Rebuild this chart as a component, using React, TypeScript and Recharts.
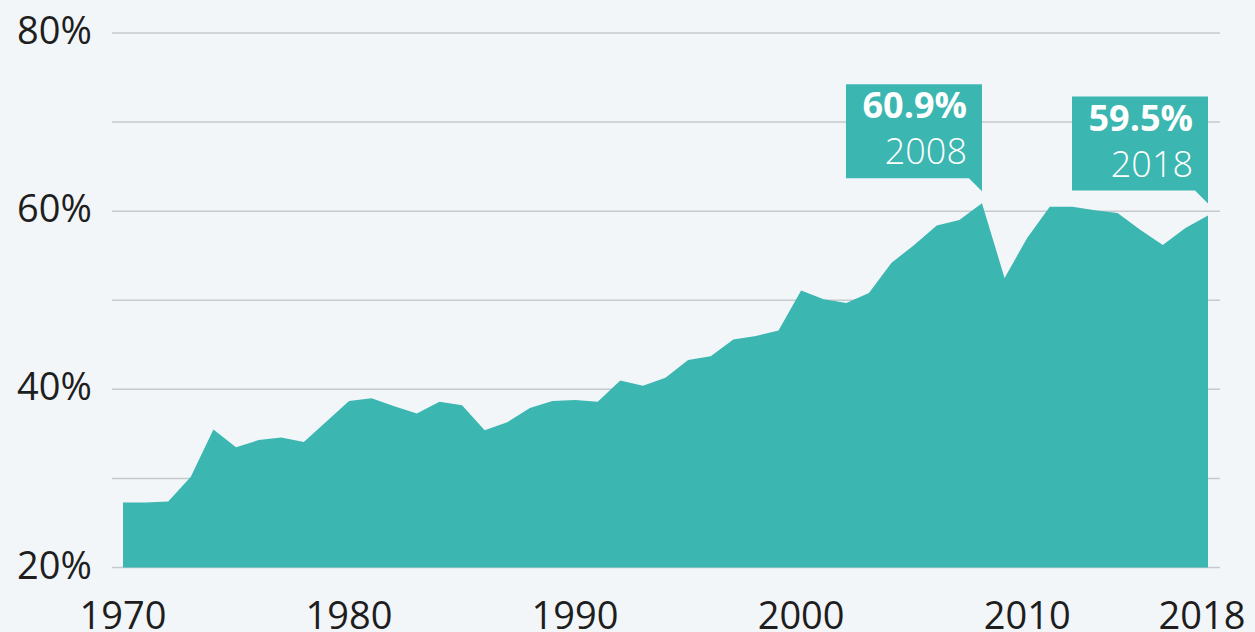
import React from 'react'
import { AreaChart, Area, XAxis, YAxis, CartesianGrid, LabelList } from 'recharts'

const years = [
  1970, 1971, 1972, 1973, 1974, 1975, 1976, 1977, 1978, 1979,
  1980, 1981, 1982, 1983, 1984, 1985, 1986, 1987, 1988, 1989,
  1990, 1991, 1992, 1993, 1994, 1995, 1996, 1997, 1998, 1999,
  2000, 2001, 2002, 2003, 2004, 2005, 2006, 2007, 2008, 2009,
  2010, 2011, 2012, 2013, 2014, 2015, 2016, 2017, 2018,
]

const shares = [
  27.3, 27.3, 27.4, 30.2, 35.5, 33.5, 34.3, 34.6, 34.1, 36.4,
  38.7, 39.0, 38.1, 37.3, 38.6, 38.2, 35.4, 36.3, 37.9, 38.7,
  38.8, 38.6, 41.0, 40.4, 41.3, 43.3, 43.7, 45.6, 46.0, 46.6,
  51.1, 50.1, 49.7, 50.8, 54.2, 56.2, 58.4, 59.0, 60.9, 52.5,
  57.0, 60.5, 60.5, 60.1, 59.8, 57.9, 56.2, 58.1, 59.5,
]

const xTicks = [1970, 1980, 1990, 2000, 2010, 2018]
const yTicks = [20, 30, 40, 50, 60, 70, 80]
const yLabelTicks = [20, 40, 60, 80]
const calloutYears = [2008, 2018]

const TEAL = '#3bb6b1'
const BG = '#f3f6f9'
const FONT = '"Open Sans", sans-serif'

const data = years.map((year, i) => ({ year, share: shares[i] }))

function YTick({ x, y, payload }: any) {
  if (!yLabelTicks.includes(payload.value)) return null
  return (
    <text x={x} y={y + 11} textAnchor="end" fontSize={38} fill="#1e1e1e" fontFamily={FONT}>
      {payload.value}%
    </text>
  )
}

function XTick({ x, y, payload }: any) {
  const dx = payload.value === 2018 ? -6 : 0
  return (
    <text x={x + dx} y={y + 61} textAnchor="middle" fontSize={38} fill="#1e1e1e" fontFamily={FONT}>
      {payload.value}
    </text>
  )
}

// speech-bubble label above the highlighted points
function Callout(props: any) {
  const { x, y, value, index } = props
  if (!calloutYears.includes(years[index])) return null
  const left = x - 136
  const top = y - 119
  const bottom = y - 25
  const d = `M${left},${top} H${x} V${y - 12} L${x - 13},${bottom} H${left} Z`
  return (
    <g>
      <path d={d} fill={TEAL} />
      <text x={x - 15} y={y - 85} textAnchor="end" fontSize={36} fontWeight={700} fill="#fff" fontFamily={FONT}>
        {value.toFixed(1)}%
      </text>
      <text x={x - 15} y={y - 39} textAnchor="end" fontSize={36} fontWeight={300} fill="#fff" fontFamily={FONT}>
        {years[index]}
      </text>
    </g>
  )
}

export default function App() {
  return (
    <div style={{ position: 'absolute', left: 0, top: 0, width: 1255, height: 632, background: BG, overflow: 'hidden' }}>
      <AreaChart width={1255} height={632} data={data} margin={{ top: 33, right: 35, bottom: 0, left: 0 }}>
        <CartesianGrid vertical={false} stroke="#c6cacf" strokeWidth={1.5} />
        <XAxis
          dataKey="year"
          type="number"
          domain={[1970, 2018]}
          ticks={xTicks}
          padding={{ left: 11, right: 12 }}
          axisLine={false}
          tickLine={false}
          tickSize={0}
          tickMargin={0}
          height={64.5}
          tick={<XTick />}
          interval={0}
        />
        <YAxis
          domain={[20, 80]}
          ticks={yTicks}
          axisLine={false}
          tickLine={false}
          tickSize={0}
          tickMargin={20}
          width={112}
          tick={<YTick />}
          interval={0}
        />
        <Area
          type="linear"
          dataKey="share"
          stroke="none"
          fill={TEAL}
          fillOpacity={1}
          isAnimationActive={false}
        >
          <LabelList dataKey="share" content={<Callout />} />
        </Area>
      </AreaChart>
    </div>
  )
}
